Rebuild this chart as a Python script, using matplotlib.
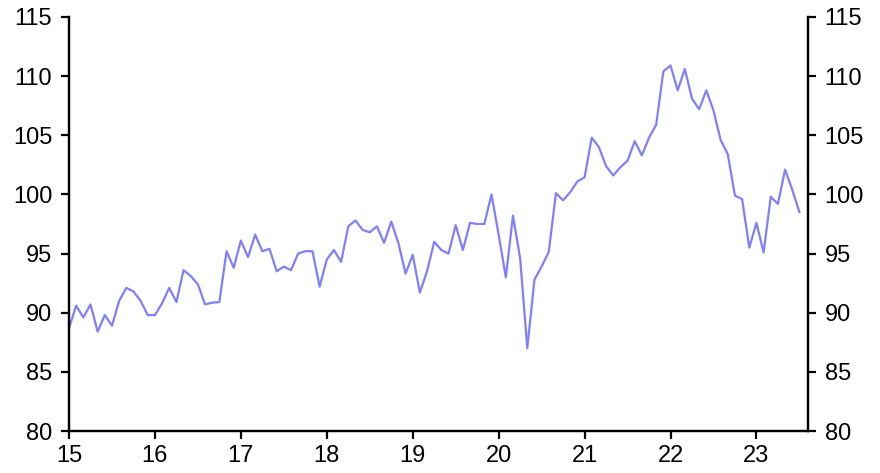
import matplotlib
matplotlib.use("Agg")
import matplotlib.pyplot as plt
import numpy as np

plt.rcParams['font.family'] = ['Liberation Sans', 'DejaVu Sans']

# Monthly index, Jan 2015 - Jul 2023
values = [
    # 2015
    88.7, 90.6, 89.6, 90.7, 88.4, 89.8, 88.9, 91.0, 92.1, 91.8, 91.0, 89.8,
    # 2016
    89.8, 90.8, 92.1, 90.9, 93.6, 93.1, 92.4, 90.7, 90.85, 90.9, 95.2, 93.8,
    # 2017
    96.1, 94.7, 96.6, 95.2, 95.4, 93.5, 93.9, 93.6, 95.0, 95.2, 95.2, 92.2,
    # 2018
    94.5, 95.3, 94.3, 97.3, 97.8, 97.0, 96.8, 97.3, 95.9, 97.7, 95.9, 93.3,
    # 2019
    94.9, 91.7, 93.5, 96.0, 95.3, 95.0, 97.4, 95.3, 97.6, 97.5, 97.5, 100.0,
    # 2020
    96.6, 93.0, 98.2, 94.6, 87.0, 92.8, 93.9, 95.15, 100.1, 99.5, 100.2, 101.1,
    # 2021
    101.45, 104.8, 104.0, 102.4, 101.6, 102.3, 102.85, 104.5, 103.3, 104.8, 105.9, 110.4,
    # 2022
    110.9, 108.8, 110.6, 108.1, 107.2, 108.8, 107.1, 104.6, 103.4, 99.9, 99.6, 95.5,
    # 2023
    97.6, 95.1, 99.8, 99.2, 102.1, 100.4, 98.5,
]
start_year = 15
x = start_year + np.arange(len(values)) / 12.0

xticks = list(range(15, 24))
xtick_labels = [str(t) for t in xticks]
yticks = list(range(80, 116, 5))

fig = plt.figure(figsize=(8.8, 4.73), dpi=100)
ax = fig.add_axes([69/880, 1-431/473, (808-69)/880, (431-17)/473])
ax.plot(x, values, color='#7f7fff', lw=1.6)

ax.set_xlim(15, 23.6)
ax.set_ylim(80, 115)
ax.set_xticks(xticks)
ax.set_xticklabels(xtick_labels)
ax.set_yticks(yticks)

ax2 = ax.twinx()
ax2.set_ylim(80, 115)
ax2.set_yticks(yticks)

for a in (ax, ax2):
    a.spines['top'].set_visible(False)
    for s in ('left', 'right', 'bottom'):
        a.spines[s].set_linewidth(1.6)
    a.tick_params(direction='out', length=6, width=1.6, labelsize=17, pad=6)
ax.tick_params(axis='x', pad=4)

fig.savefig('out.png', dpi=100)
